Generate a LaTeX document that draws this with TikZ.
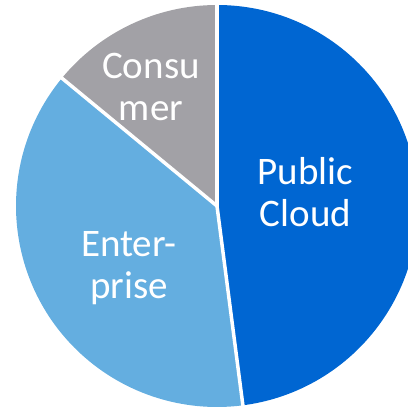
\documentclass[tikz,border=0pt]{standalone}
\usepackage{fontspec}
\setmainfont{Carlito}
\definecolor{pubblue}{RGB}{0,102,210}
\definecolor{entblue}{RGB}{100,174,224}
\definecolor{congray}{RGB}{162,161,166}
\begin{document}
\begin{tikzpicture}[x=1pt,y=1pt,
  slice/.style={draw=white,line width=3.5pt,line join=round},
  lbl/.style={text=white,align=center,font=\fontsize{39}{41.5}\selectfont,inner sep=0pt}]
\useasboundingbox (0,0) rectangle (408,408);
\coordinate (c) at (217,202);
\def\R{201}
\fill[pubblue] (c) -- ++(90:\R) arc[start angle=90,end angle=-82.6,radius=\R] -- cycle;
\fill[entblue] (c) -- ++(140.5:\R) arc[start angle=140.5,end angle=277.4,radius=\R] -- cycle;
\fill[congray] (c) -- ++(90:\R) arc[start angle=90,end angle=140.5,radius=\R] -- cycle;
\draw[slice] (c) -- ++(90:\R+3);
\draw[slice] (c) -- ++(-82.6:\R+3);
\draw[slice] (c) -- ++(140.5:\R+3);
\node[lbl] (pub) at (305.5,216) {Public\\Cloud};
\node[lbl] (ent) at (129,140) {Enter-\\prise};
\node[lbl] (con) at (151,321) {Consu\\mer};
\end{tikzpicture}
\end{document}
